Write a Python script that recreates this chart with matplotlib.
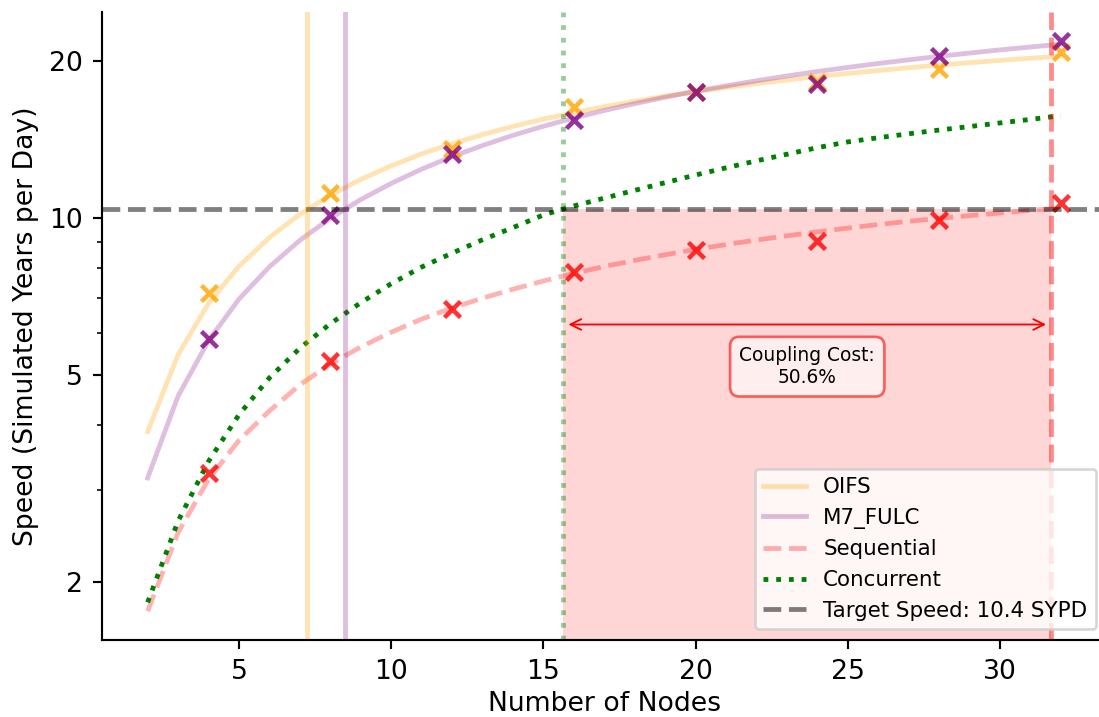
import matplotlib
matplotlib.use("Agg")
import matplotlib.pyplot as plt
from matplotlib.ticker import NullFormatter

# nodes for the fitted speed curves
nodes = list(range(2, 33))
oifs_fit = [3.89, 5.46, 6.85, 8.07, 9.16, 10.15, 11.03, 11.84, 12.57, 13.25, 13.86,
            14.43, 14.96, 15.45, 15.90, 16.32, 16.72, 17.09, 17.44, 17.77, 18.07,
            18.36, 18.64, 18.90, 19.15, 19.38, 19.61, 19.82, 20.02, 20.21, 20.40]
m7_fit = [3.17, 4.55, 5.81, 6.98, 8.05, 9.05, 9.97, 10.83, 11.63, 12.39, 13.09,
          13.75, 14.38, 14.97, 15.52, 16.05, 16.54, 17.02, 17.47, 17.89, 18.30,
          18.69, 19.06, 19.41, 19.75, 20.07, 20.38, 20.68, 20.97, 21.24, 21.51]
seq_fit = [1.76, 2.49, 3.15, 3.74, 4.26, 4.78, 5.24, 5.65, 6.03, 6.39, 6.71,
           7.01, 7.29, 7.56, 7.82, 8.06, 8.28, 8.49, 8.69, 8.88, 9.06,
           9.23, 9.39, 9.55, 9.70, 9.84, 9.97, 10.09, 10.21, 10.33, 10.44]
conc_fit = [1.83, 2.62, 3.41, 4.19, 4.93, 5.62, 6.26, 6.87, 7.47, 8.04, 8.55,
            9.07, 9.57, 10.12, 10.53, 10.90, 11.28, 11.67, 12.07, 12.46, 12.85,
            13.23, 13.62, 13.97, 14.23, 14.48, 14.72, 14.95, 15.19, 15.43, 15.68]

# measured points
meas_nodes = [4, 8, 12, 16, 20, 24, 28, 32]
oifs_meas = [7.18, 11.17, 13.55, 16.3, 17.4, 18.2, 19.3, 20.8]
m7_meas = [5.86, 10.1, 13.27, 15.4, 17.4, 18.07, 20.4, 21.8]
seq_meas = [3.24, 5.3, 6.69, 7.88, 8.68, 9.03, 9.91, 10.69]

target = 10.4
# nodes where each curve reaches the target speed
oifs_cross = 7.22
m7_cross = 8.48
conc_cross = 15.65
seq_cross = 31.69
coupling_cost = (seq_cross - conc_cross) / seq_cross * 100

fig = plt.figure(figsize=(1099 / 192, 717 / 192), dpi=192)
ax = fig.add_axes([0.0928, 0.1074, 0.914, 0.876])

ax.plot(nodes, oifs_fit, color="orange", alpha=0.3, lw=1.8, label="OIFS")
ax.plot(nodes, m7_fit, color="purple", alpha=0.25, lw=1.8, label="M7_FULC")
ax.plot(nodes, seq_fit, color="red", alpha=0.3, lw=1.8, ls="--", label="Sequential")
ax.plot(nodes, conc_fit, color="green", lw=1.8, ls=":", label="Concurrent")

ax.plot(meas_nodes, oifs_meas, "x", color="orange", alpha=0.8, ms=6.3, mew=1.7)
ax.plot(meas_nodes, m7_meas, "x", color="purple", alpha=0.8, ms=6.3, mew=1.7)
ax.plot(meas_nodes, seq_meas, "x", color="red", alpha=0.8, ms=6.3, mew=1.7)

ax.axhline(target, color="black", alpha=0.5, lw=1.8, ls="--",
           label=f"Target Speed: {target} SYPD")
ax.axvline(oifs_cross, color="orange", alpha=0.3, lw=1.8)
ax.axvline(m7_cross, color="purple", alpha=0.25, lw=1.8)
ax.axvline(conc_cross, color="green", alpha=0.4, lw=1.8, ls=":")
ax.axvline(seq_cross, color="red", alpha=0.45, lw=1.8, ls="--")

ax.set_yscale("log")
ax.set_xlim(0.5, 33.5)
ax.set_ylim(1.55, 24.8)
ylo = ax.get_ylim()[0]
ax.fill_between([conc_cross, seq_cross], ylo, target, color="red", alpha=0.16, lw=0)

ax.annotate("", xy=(seq_cross, 6.24), xytext=(conc_cross, 6.24),
            arrowprops=dict(arrowstyle="<->", color="red", lw=0.7))
ax.text((conc_cross + seq_cross) / 2, 5.18, f"Coupling Cost:\n{coupling_cost:.1f}%",
        ha="center", va="center", fontsize=7,
        bbox=dict(boxstyle="round,pad=0.5", facecolor="white", alpha=0.6,
                  edgecolor="red"))

ax.set_yticks([2, 5, 10, 20], ["2", "5", "10", "20"])
ax.yaxis.set_minor_formatter(NullFormatter())
ax.set_xlabel("Number of Nodes", labelpad=2.5)
ax.set_ylabel("Speed (Simulated Years per Day)")
ax.spines["top"].set_visible(False)
ax.spines["right"].set_visible(False)
ax.legend(loc="lower right", fontsize=8)

fig.savefig("out.png", dpi=192)
